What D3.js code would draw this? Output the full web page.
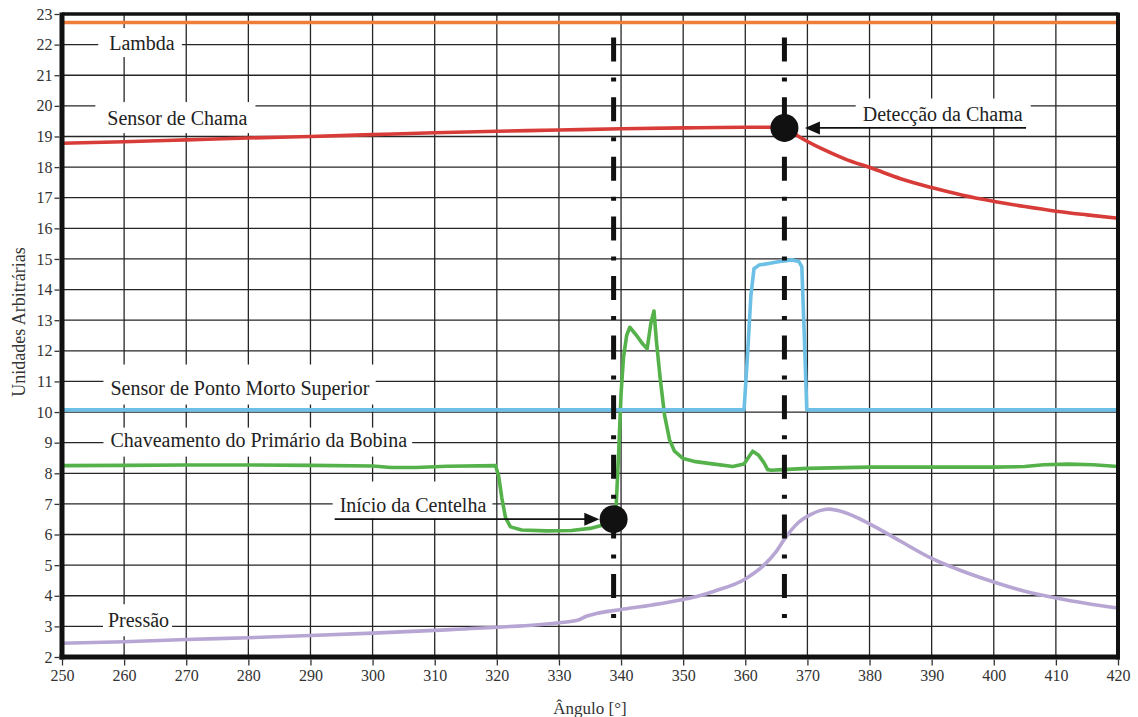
<!DOCTYPE html>
<html><head><meta charset="utf-8">
<script src="https://cdn.jsdelivr.net/npm/d3@7"></script>
<style>body{margin:0;background:#fff}svg{display:block}text{font-family:"Liberation Serif","Times New Roman","DejaVu Serif",serif}</style>
</head><body><svg id="c" width="1138" height="717" font-family="Liberation Serif, Times New Roman, DejaVu Serif, serif"></svg>
<script>
// ---------- data ----------
const angleTicks = [250,260,270,280,290,300,310,320,330,340,350,360,370,380,390,400,410,420];
const valueTicks = [2,3,4,5,6,7,8,9,10,11,12,13,14,15,16,17,18,19,20,21,22,23];

const lambdaData = [[250,22.72],[420,22.72]];

const chamaData = [[250,18.78],[260,18.83],[270,18.89],[280,18.95],[290,19.0],[300,19.06],[310,19.12],
  [320,19.17],[330,19.21],[340,19.25],[350,19.28],[360,19.3],[366.3,19.3],[368.6,19.0],[372.3,18.6],
  [376,18.27],[380.4,17.96],[385,17.62],[390,17.33],[395,17.08],[400.3,16.87],[405,16.71],[410,16.56],
  [415,16.44],[420,16.33]];

const pmsData = [[250,10.07],[300,10.07],[359.8,10.07],[360.4,12.0],[360.9,13.8],[361.4,14.68],[362.2,14.8],
  [364,14.86],[366,14.93],[367.5,14.97],[368.6,14.92],[369.1,14.75],[369.5,12.5],[369.9,10.07],[420,10.07]];

const bobinaData = [[250,8.25],[260,8.26],[270,8.27],[280,8.27],[290,8.26],[300,8.24],[303,8.19],[307,8.19],
  [312,8.23],[319.8,8.25],[320.3,7.9],[320.8,7.2],[321.4,6.55],[322.2,6.25],[324,6.15],[328,6.12],[332,6.13],
  [335,6.2],[337,6.3],[338.5,6.42],[339.2,6.9],[339.6,8.6],[340.0,10.6],[340.4,11.8],[340.9,12.5],[341.4,12.77],
  [342.5,12.5],[343.5,12.22],[344.2,12.07],[344.8,12.9],[345.3,13.3],[345.7,12.3],[346.3,11.1],[347.0,9.9],
  [347.8,9.1],[348.6,8.72],[350,8.48],[352,8.38],[355,8.3],[358,8.22],[359.8,8.3],[360.6,8.55],[361.2,8.72],
  [362.1,8.6],[363.0,8.35],[363.6,8.12],[364.2,8.1],[366,8.12],[370,8.16],[380,8.2],[390,8.2],[400,8.2],
  [405,8.22],[408,8.28],[412,8.3],[416,8.28],[420,8.22]];

const pressaoData = [[250,2.45],[260,2.5],[270,2.57],[280,2.63],[290,2.7],[300,2.78],[310,2.87],[320,2.97],
  [330,3.12],[333,3.2],[334.4,3.33],[336,3.42],[340,3.55],[345,3.7],[350,3.88],[352.6,4.0],[355,4.15],
  [360,4.55],[363,5.0],[365,5.45],[366.3,5.85],[368.6,6.4],[370.5,6.65],[372,6.78],[373.5,6.83],[376,6.72],
  [380,6.35],[385,5.78],[390,5.22],[395,4.8],[400,4.45],[405,4.15],[410,3.93],[415,3.75],[420,3.6]];

const markerAngles = [338.8, 366.3];
const markerRange = [22.23, 3.2];
const sparkEvent = [338.8, 6.5];
const flameEvent = [366.3, 19.28];
const sparkArrow = [293.9, 336.5];
const flameArrow = [405.2, 369.6];

const seriesNames = ["Lambda","Sensor de Chama","Sensor de Ponto Morto Superior","Chaveamento do Primário da Bobina","Pressão"];
const eventNames = ["Início da Centelha","Detecção da Chama"];
const xTitle = "Ângulo [°]";
const yTitle = "Unidades Arbitrárias";

// ---------- layout ----------
const FONT = "Liberation Serif, Times New Roman, DejaVu Serif, serif";
const W = 1138, H = 717;
const m = {l:62, t:14, r:20, b:60};
const svg = d3.select("#c");
const x = d3.scaleLinear().domain([250,420]).range([m.l, W - m.r]);
const y = d3.scaleLinear().domain([2,23]).range([H - m.b, m.t]);

// grid
const grid = svg.append("g").attr("stroke","#262626").attr("stroke-width",1.3);
grid.selectAll("line.v").data(angleTicks.slice(1,-1)).join("line")
  .attr("x1",d=>x(d)).attr("x2",d=>x(d)).attr("y1",y(23)).attr("y2",y(2));
grid.selectAll("line.h").data(valueTicks.slice(1,-1)).join("line")
  .attr("x1",x(250)).attr("x2",x(420)).attr("y1",d=>y(d)).attr("y2",d=>y(d));

// labels (with white masks)
const labelSpec = [
  {text:seriesNames[0], ax:257.6, ay:22.05, pt:15, pb:14, pl:11, pr:7},
  {text:seriesNames[1], ax:257.3, ay:19.6, pt:16, pb:15, pl:12, pr:8},
  {text:seriesNames[2], ax:257.8, ay:10.8, pt:23, pb:17, pl:7, pr:6},
  {text:seriesNames[3], ax:257.8, ay:9.1, pt:12, pb:17, pl:7, pr:5},
  {text:eventNames[0], ax:294.7, ay:6.98, pt:23, pb:null, pl:7, pr:6, arrowV:sparkEvent[1]},
  {text:eventNames[1], ax:378.9, ay:19.75, pt:15, pb:null, pl:7, pr:8, arrowV:flameEvent[1]},
  {text:seriesNames[4], ax:257.4, ay:3.2, pt:16, pb:16, pl:5, pr:3},
];
const maskG = svg.append("g");
const lineG = svg.append("g");
const textG = svg.append("g");
labelSpec.forEach(s => {
  const t = textG.append("text").attr("x",x(s.ax)).attr("y",y(s.ay)).attr("dy","0.35em")
    .attr("font-family",FONT).attr("font-size",20).attr("fill","#222").text(s.text);
  const bb = t.node().getBBox();
  const cy = y(s.ay);
  const top = cy - s.pt;
  const bottom = s.pb === null ? y(s.arrowV) - 1 : cy + s.pb;
  maskG.append("rect").attr("x",bb.x - s.pl).attr("y",top)
    .attr("width",bb.width + s.pl + s.pr).attr("height",bottom - top).attr("fill","#fff");
});

// series
const lin = d3.line().x(d=>x(d[0])).y(d=>y(d[1]));
const smooth = d3.line().x(d=>x(d[0])).y(d=>y(d[1])).curve(d3.curveMonotoneX);
const sw = 3.6;
lineG.append("path").datum(pressaoData).attr("d",smooth).attr("fill","none").attr("stroke","#b7a6d3").attr("stroke-width",sw);
lineG.append("path").datum(bobinaData).attr("d",lin).attr("fill","none").attr("stroke","#55b24b").attr("stroke-width",sw).attr("stroke-linejoin","round");
lineG.append("path").datum(pmsData).attr("d",lin).attr("fill","none").attr("stroke","#6cc0e5").attr("stroke-width",sw).attr("stroke-linejoin","round");
lineG.append("path").datum(chamaData).attr("d",smooth).attr("fill","none").attr("stroke","#d83c38").attr("stroke-width",sw);
lineG.append("path").datum(lambdaData).attr("d",lin).attr("fill","none").attr("stroke","#ef7d3a").attr("stroke-width",sw);

// markers (dash-dot)
lineG.selectAll("line.mk").data(markerAngles).join("line")
  .attr("x1",d=>x(d)).attr("x2",d=>x(d)).attr("y1",y(markerRange[0])).attr("y2",y(markerRange[1]))
  .attr("stroke","#111").attr("stroke-width",5).attr("stroke-dasharray","24,16,4,15.6");

// arrows
function arrow(x0, x1, v) {
  const yy = y(v), dir = Math.sign(x1 - x0);
  lineG.append("line").attr("x1",x(x0)).attr("x2",x(x1) - dir*12).attr("y1",yy).attr("y2",yy)
    .attr("stroke","#111").attr("stroke-width",1.8);
  const tip = x(x1);
  lineG.append("path").attr("d",`M${tip},${yy} L${tip - dir*15},${yy-6.5} L${tip - dir*15},${yy+6.5} Z`).attr("fill","#111");
}
arrow(sparkArrow[0], sparkArrow[1], sparkEvent[1]);
arrow(flameArrow[0], flameArrow[1], flameEvent[1]);

// event dots
lineG.selectAll("circle").data([sparkEvent, flameEvent]).join("circle")
  .attr("cx",d=>x(d[0])).attr("cy",d=>y(d[1])).attr("r",14).attr("fill","#111");

// border
const bd = svg.append("g").attr("stroke","#111");
bd.append("line").attr("x1",x(250)).attr("x2",x(420)).attr("y1",y(23)).attr("y2",y(23)).attr("stroke-width",3.5);
bd.append("line").attr("x1",x(420)).attr("x2",x(420)).attr("y1",y(23)-1.5).attr("y2",y(2)+2.5).attr("stroke-width",4);
bd.append("line").attr("x1",x(250)-2.5).attr("x2",x(420)+2).attr("y1",y(2)).attr("y2",y(2)).attr("stroke-width",5);
bd.append("line").attr("x1",x(250)).attr("x2",x(250)).attr("y1",y(23)-1.5).attr("y2",y(2)+2.5).attr("stroke-width",5);

// axes
const ax = svg.append("g").attr("transform",`translate(${m.l - 2.5},0)`)
  .call(d3.axisLeft(y).tickValues(valueTicks).tickFormat(d3.format("d")).tickSize(5).tickPadding(2));
const bx = svg.append("g").attr("transform",`translate(0,${H - m.b + 2.5})`)
  .call(d3.axisBottom(x).tickValues(angleTicks).tickFormat(d3.format("d")).tickSize(6).tickPadding(4));
[ax,bx].forEach(g => {
  g.attr("font-family",FONT).attr("font-size",16);
  g.select(".domain").remove();
  g.selectAll(".tick line").attr("stroke","#333").attr("stroke-width",1.3);
  g.selectAll(".tick text").attr("font-family",FONT).attr("font-size",16).attr("fill","#333");
});

// titles
svg.append("text").attr("x",(x(250)+x(420))/2).attr("y",708).attr("dy","0.35em").attr("text-anchor","middle")
  .attr("font-family",FONT).attr("font-size",17).attr("fill","#333").text(xTitle);
svg.append("text").attr("transform",`translate(19,322) rotate(-90)`).attr("dy","0.35em")
  .attr("text-anchor","middle").attr("font-family",FONT).attr("font-size",18).attr("fill","#333").text(yTitle);
</script></body></html>
